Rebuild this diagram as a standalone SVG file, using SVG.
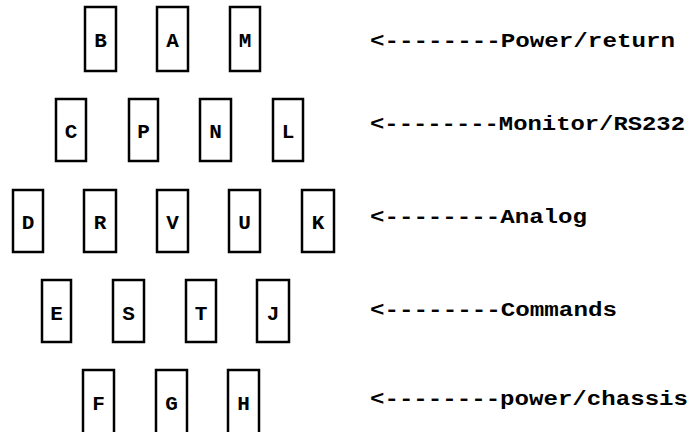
<svg xmlns="http://www.w3.org/2000/svg" width="693" height="432" viewBox="0 0 693 432">
<style>
.pin{fill:#fff;stroke:#000;stroke-width:2.5}
.pl{font-family:"Liberation Mono","Courier New",monospace;font-weight:bold;font-size:21px;fill:#000;text-anchor:middle}
.lb{font-family:"Liberation Mono","Courier New",monospace;font-weight:bold;font-size:20px;fill:#000}
</style>
<rect width="693" height="432" fill="#fff"/>
<g id="row1">
<g id="pin-B"><rect class="pin" x="85" y="7" width="31" height="64"/><text class="pl" x="100.5" y="47">B</text></g>
<g id="pin-A"><rect class="pin" x="157" y="7" width="31" height="64"/><text class="pl" x="172.5" y="47">A</text></g>
<g id="pin-M"><rect class="pin" x="230" y="7" width="30" height="64"/><text class="pl" x="245" y="47">M</text></g>
</g>
<g id="row2">
<g id="pin-C"><rect class="pin" x="56" y="99" width="30" height="62"/><text class="pl" x="71" y="138">C</text></g>
<g id="pin-P"><rect class="pin" x="129" y="99" width="29" height="62"/><text class="pl" x="143.5" y="138">P</text></g>
<g id="pin-N"><rect class="pin" x="200" y="99" width="31" height="62"/><text class="pl" x="215.5" y="138">N</text></g>
<g id="pin-L"><rect class="pin" x="273" y="99" width="30" height="62"/><text class="pl" x="288" y="138">L</text></g>
</g>
<g id="row3">
<g id="pin-D"><rect class="pin" x="13" y="190" width="30" height="62"/><text class="pl" x="28" y="229">D</text></g>
<g id="pin-R"><rect class="pin" x="84" y="190" width="32" height="62"/><text class="pl" x="100" y="229">R</text></g>
<g id="pin-V"><rect class="pin" x="157" y="190" width="31" height="62"/><text class="pl" x="172.5" y="229">V</text></g>
<g id="pin-U"><rect class="pin" x="229" y="190" width="31" height="62"/><text class="pl" x="244.5" y="229">U</text></g>
<g id="pin-K"><rect class="pin" x="302" y="190" width="32" height="62"/><text class="pl" x="318" y="229">K</text></g>
</g>
<g id="row4">
<g id="pin-E"><rect class="pin" x="42" y="280" width="29" height="62"/><text class="pl" x="56.5" y="320">E</text></g>
<g id="pin-S"><rect class="pin" x="113" y="280" width="31" height="62"/><text class="pl" x="128.5" y="320">S</text></g>
<g id="pin-T"><rect class="pin" x="186" y="280" width="30" height="62"/><text class="pl" x="201" y="320">T</text></g>
<g id="pin-J"><rect class="pin" x="257" y="280" width="32" height="62"/><text class="pl" x="273" y="320">J</text></g>
</g>
<g id="row5">
<g id="pin-F"><rect class="pin" x="83" y="370" width="31" height="70"/><text class="pl" x="98.5" y="410">F</text></g>
<g id="pin-G"><rect class="pin" x="156" y="370" width="31" height="70"/><text class="pl" x="171.5" y="410">G</text></g>
<g id="pin-H"><rect class="pin" x="228" y="370" width="31" height="70"/><text class="pl" x="243.5" y="410">H</text></g>
</g>
<g id="labels">
<text class="lb" x="370" y="47" textLength="305" lengthAdjust="spacingAndGlyphs">&lt;--------Power/return</text>
<text class="lb" x="370" y="130" textLength="315" lengthAdjust="spacingAndGlyphs">&lt;--------Monitor/RS232</text>
<text class="lb" x="370" y="223" textLength="217" lengthAdjust="spacingAndGlyphs">&lt;--------Analog</text>
<text class="lb" x="370" y="316" textLength="247" lengthAdjust="spacingAndGlyphs">&lt;--------Commands</text>
<text class="lb" x="370" y="405" textLength="318" lengthAdjust="spacingAndGlyphs">&lt;--------power/chassis</text>
</g>
</svg>
